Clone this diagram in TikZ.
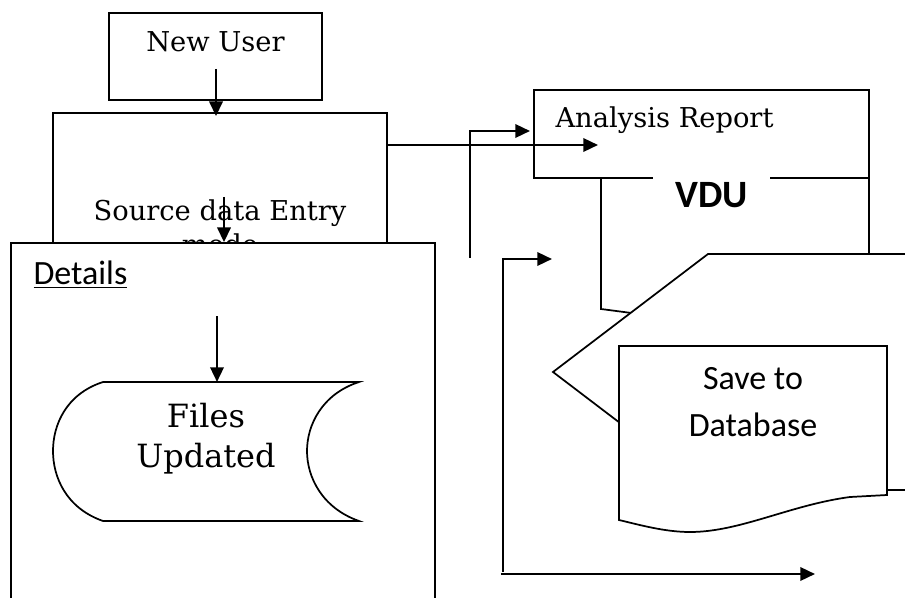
\documentclass[tikz,border=0pt]{standalone}
\usepackage{fontspec}
\newfontfamily\calibri{Carlito}
\newfontfamily\bookman{DejaVu Serif}
\usetikzlibrary{arrows.meta}

\tikzset{every picture/.style={line width=0.75pt}}
\tikzset{
  box/.style={draw, line width=1.3pt, fill=white, inner sep=0pt},
  outline/.style={draw, line width=1.3pt},
  flow/.style={line width=1.8pt, -{Triangle[length=11pt,width=10pt]}},
  serifbig/.style={inner sep=0pt, font=\bookman\fontsize{20.5}{26}\selectfont},
  sansbig/.style={inner sep=0pt, font=\calibri\fontsize{25.5}{35}\selectfont},
}

\begin{document}
\begin{tikzpicture}[x=0.75pt,y=0.75pt,yscale=-1,xscale=1]
\useasboundingbox (0,0) rectangle (905,598);
\clip (0,0) rectangle (905,598);

%Shape: Rectangle  New User
\node [box, minimum width=159.75pt, minimum height=65.25pt] (newuser) at (215.5,56.5) {};
\node [serifbig, anchor=base] (newuser-txt) at (215.5,52) {New User};

%Shape: Rectangle  Source data Entry
\node [box, minimum width=250.5pt, minimum height=174pt] (source) at (220,229) {};
\node [serifbig, align=center, anchor=north] (source-txt) at (220,199) {Source data Entry\\mode};

%Shape: Rectangle  Details
\node [box, minimum width=318pt, minimum height=282.75pt] (details) at (223,431.5) {};
\node [inner sep=0pt, font=\calibri\fontsize{25.5}{30}\selectfont, anchor=base west] (details-txt) at (33,285) {\underline{Details}};

%Shape: Stored data
\draw [outline, fill=white] (103,382) -- (359,382) .. controls (322,394) and (307,425) .. (307,451) .. controls (307,477) and (322,508) .. (359,521) -- (103,521) .. controls (66,508) and (53,477) .. (53,451) .. controls (53,425) and (66,394) .. (103,382) -- cycle ;
\node [inner sep=0pt, align=center, font=\bookman\fontsize{24}{30}\selectfont] (files) at (206,439) {Files\\Updated};

%Shape: VDU
\draw [outline] (601,178) -- (601,309) -- (700,322) -- (869,305) -- (869,178) ;
\node [box, minimum width=251.25pt, minimum height=66pt] (analysis) at (701.5,134) {};
\node [serifbig, anchor=base west] (analysis-txt) at (555,128) {Analysis Report};
\node [inner xsep=17pt, inner ysep=6pt, fill=white, font=\calibri\bfseries\fontsize{29}{35}\selectfont, anchor=base] (vdu) at (711.5,208) {VDU};

%Shape: Display
\draw [outline, fill=white] (553,372) -- (708,254) -- (960,254) -- (960,490) -- (708,490) -- cycle ;

%Shape: Document  Save to Database
\draw [outline, fill=white] (619,346) -- (887,346) -- (887,495) -- (850,497) .. controls (790,505) and (740,532) .. (690,532) .. controls (665,532) and (640,525) .. (619,520) -- cycle ;
\node [sansbig, align=center] (savedb) at (753,402) {Save to\\Database};

% Free ends
\coordinate (nu-out) at (216,69);
\coordinate (src-out) at (224,197);
\coordinate (det-out) at (217,316);
\coordinate (files-in) at (217,382);
\coordinate (rep-in) at (598,145);
\coordinate (loop-a) at (470,258);
\coordinate (loop-a-end) at (530,131);
\coordinate (loop-b) at (503,572);
\coordinate (loop-b-end) at (552,259);
\coordinate (out-a) at (501,574);
\coordinate (out-b) at (815,574);

% Connections
\draw [flow, shorten >=-3pt] (nu-out) -- (nu-out |- source.north) ;
\draw [flow] (src-out) -- (src-out |- details.north) ;
\draw [flow] (det-out) -- (files-in) ;
\draw [flow] (source.east |- rep-in) -- (rep-in) ;
\draw [flow] (loop-a) |- (loop-a-end) ;
\draw [flow] (loop-b) |- (loop-b-end) ;
\draw [flow] (out-a) -- (out-b) ;

\end{tikzpicture}
\end{document}
